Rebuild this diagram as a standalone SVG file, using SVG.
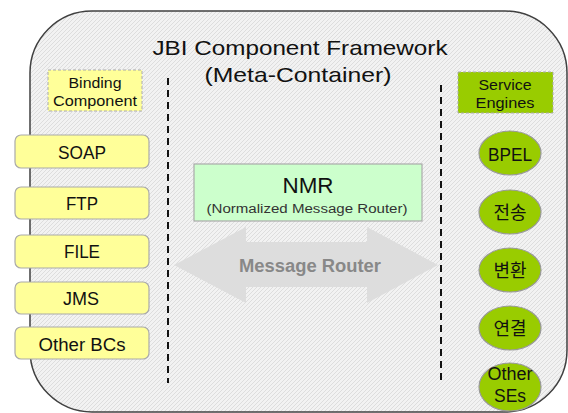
<svg xmlns="http://www.w3.org/2000/svg" width="568" height="413" viewBox="0 0 568 413">
<style>
text{font-family:"Liberation Sans","Noto Sans CJK KR",sans-serif;fill:#111;text-anchor:middle}
.bc rect{fill:#ffff99;stroke:#aaaaaa;stroke-width:1.2}
.bc text{font-size:17.5px}
.se ellipse{fill:#99cc00;stroke:#999999;stroke-width:1.2}
.se text{font-size:18px}
.dash{stroke:#111;stroke-width:2;stroke-dasharray:7,5;fill:none}
.lbl{stroke:#aaaaaa;stroke-width:1;stroke-dasharray:3,2}
</style>
<defs>
<pattern id="hatch" width="4" height="4" patternUnits="userSpaceOnUse">
<rect width="4" height="4" fill="#f2f2f2"/>
<path d="M-1,1 l2,-2 M0,4 l4,-4 M3,5 l2,-2" stroke="#d8d8d8" stroke-width="0.8"/>
</pattern>
</defs>
<rect x="30" y="11" width="537" height="401" rx="62" fill="url(#hatch)" stroke="#404040" stroke-width="1.5"/>
<g id="title">
<text x="300" y="55" style="font-size:21px" textLength="295" lengthAdjust="spacingAndGlyphs">JBI Component Framework</text>
<text x="298" y="82" style="font-size:21px" textLength="187" lengthAdjust="spacingAndGlyphs">(Meta-Container)</text>
</g>
<g id="connectors">
<line class="dash" x1="168" y1="78" x2="168" y2="383"/>
<line class="dash" x1="441" y1="85" x2="441" y2="383"/>
</g>
<g id="binding-label">
<rect class="lbl" x="48" y="70" width="94" height="41" fill="#ffff99"/>
<text x="95" y="88" style="font-size:14px" textLength="53" lengthAdjust="spacingAndGlyphs">Binding</text>
<text x="95" y="106" style="font-size:14px" textLength="84" lengthAdjust="spacingAndGlyphs">Component</text>
</g>
<g id="service-label">
<rect class="lbl" x="458" y="72" width="95" height="41" fill="#99cc00"/>
<text x="505" y="90" style="font-size:14px" textLength="53" lengthAdjust="spacingAndGlyphs">Service</text>
<text x="505" y="108" style="font-size:14px" textLength="59" lengthAdjust="spacingAndGlyphs">Engines</text>
</g>
<g id="soap" class="bc"><rect x="15" y="135" width="134" height="33" rx="6"/><text x="82" y="159" textLength="48" lengthAdjust="spacingAndGlyphs">SOAP</text></g>
<g id="ftp" class="bc"><rect x="15" y="187" width="134" height="32" rx="6"/><text x="82" y="210" textLength="32" lengthAdjust="spacingAndGlyphs">FTP</text></g>
<g id="file" class="bc"><rect x="15" y="235" width="134" height="33" rx="6"/><text x="82" y="258" textLength="36" lengthAdjust="spacingAndGlyphs">FILE</text></g>
<g id="jms" class="bc"><rect x="15" y="282" width="134" height="32" rx="6"/><text x="81" y="305" textLength="36" lengthAdjust="spacingAndGlyphs">JMS</text></g>
<g id="other-bcs" class="bc"><rect x="15" y="327" width="134" height="32" rx="6"/><text x="82" y="351" textLength="87" lengthAdjust="spacingAndGlyphs">Other BCs</text></g>
<g id="message-router">
<polygon points="174,265 246,227 246,242 367,242 367,227 438,265 367,303 367,287 246,287 246,303" fill="#dddddd"/>
<text x="310" y="272" style="font-size:18px;font-weight:bold;fill:#888888" textLength="142" lengthAdjust="spacingAndGlyphs">Message Router</text>
</g>
<g id="nmr">
<rect x="194" y="164" width="228" height="57" fill="#ccffcc" stroke="#aaaaaa" stroke-width="1.2"/>
<text x="308" y="193" style="font-size:22px" textLength="51" lengthAdjust="spacingAndGlyphs">NMR</text>
<text x="307" y="213" style="font-size:12px;fill:#333" textLength="201" lengthAdjust="spacingAndGlyphs">(Normalized Message Router)</text>
</g>
<g id="bpel" class="se"><ellipse cx="510" cy="153" rx="31" ry="22"/><text x="510" y="161" textLength="44" lengthAdjust="spacingAndGlyphs">BPEL</text></g>
<g id="transfer" class="se"><ellipse cx="510" cy="212" rx="31" ry="22"/><text x="510" y="219">전송</text></g>
<g id="transform" class="se"><ellipse cx="510" cy="270" rx="31" ry="22"/><text x="510" y="277">변환</text></g>
<g id="connect" class="se"><ellipse cx="510" cy="328" rx="31" ry="22"/><text x="510" y="335">연결</text></g>
<g id="other-ses" class="se"><ellipse cx="510" cy="387" rx="31" ry="24"/><text x="510" y="380" textLength="45" lengthAdjust="spacingAndGlyphs">Other</text><text x="510" y="402" textLength="32" lengthAdjust="spacingAndGlyphs">SEs</text></g>
</svg>
